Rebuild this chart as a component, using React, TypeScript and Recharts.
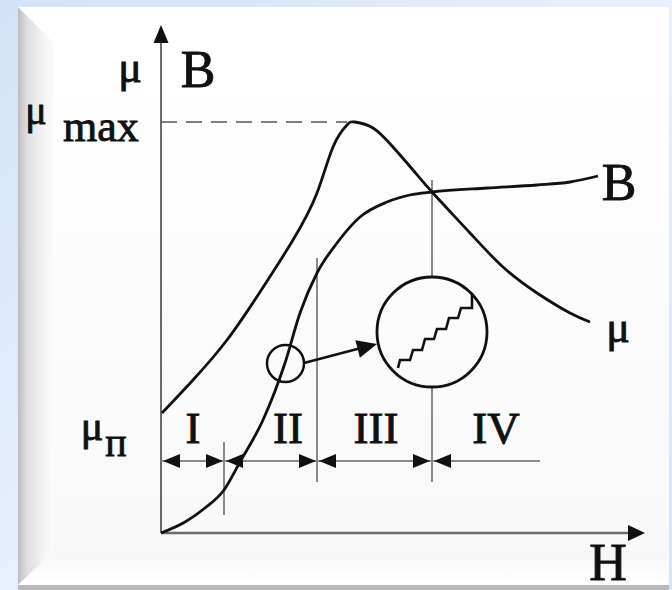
import React from 'react';
import {
  ComposedChart,
  Line,
  XAxis,
  YAxis,
  ReferenceLine,
  ReferenceDot,
  Scatter,
} from 'recharts';

// Field strength H and the two curves drawn against it (arbitrary units)
const H_MAX = 485;
const V_MAX = 508;

// Initial magnetisation curve B(H)
const bH = [0, 24, 44, 63, 79, 102, 124, 139, 156, 176, 199, 226, 249, 271, 326, 376, 409, 437];
const bV = [0, 11, 25, 43, 71, 113, 170, 220, 260, 290, 316, 331, 338, 341, 345, 348, 351, 357];

// Permeability curve μ(H)
const muH = [1, 32, 66, 99, 132, 156, 172, 186, 194, 212, 232, 252, 271, 309, 342, 376, 409, 429];
const muV = [120, 153, 193, 241, 293, 340, 386, 408, 411, 405, 386, 363, 341, 300, 266, 240, 220, 211];

// Barkhausen jumps shown in the magnified detail
const stepH = [237, 239, 249, 252, 261, 264, 273, 276, 285, 288, 297, 300, 311, 311];
const stepV = [165, 173, 173, 183, 183, 194, 194, 204, 204, 215, 215, 225, 225, 240];

// Region boundaries on the H axis and region names
const regionBounds = [0, 63, 156, 271, 379];
const regionNames = ['I', 'II', 'III', 'IV'];
const regionNameH = [32, 127, 215, 335];

const MU_MAX = 411;
const MU_MAX_H = 186;

const zip = (xs: number[], ys: number[]) => xs.map((h, i) => ({ h, v: ys[i] }));

const bData = zip(bH, bV);
const muData = zip(muH, muV);
const stepData = zip(stepH, stepV);

const INK = '#111';
const GUIDE = '#8a8a8a';
const AXIS = '#6a6a6a';
const FONT = '"Liberation Serif", "Times New Roman", serif';

// Arrow rows between the region boundaries
const ROW_V = 72;
const arrowHeads = [
  { h: 2, v: ROW_V, dir: 180 },
  { h: 62, v: ROW_V, dir: 0 },
  { h: 65, v: ROW_V, dir: 180 },
  { h: 155, v: ROW_V, dir: 0 },
  { h: 158, v: ROW_V, dir: 180 },
  { h: 269, v: ROW_V, dir: 0 },
  { h: 273, v: ROW_V, dir: 180 },
];

const axisHeads = [
  { h: 0, v: V_MAX, dir: -90, len: 18, half: 7.5 },
  { h: 484, v: 0, dir: 0, len: 17, half: 8 },
];

const zoomArrowHead = [{ h: 216, v: 189, dir: -14.6, len: 20, half: 9 }];

const ArrowHead = (props: any) => {
  const { cx, cy, payload } = props;
  if (cx == null || cy == null) return null;
  const len = payload.len ?? 17;
  const half = payload.half ?? 7;
  return (
    <polygon
      points={`0,0 ${-len},${-half} ${-len},${half}`}
      fill={INK}
      transform={`translate(${cx},${cy}) rotate(${payload.dir})`}
    />
  );
};

type TextSpec = { h: number; v: number; text: string; size: number; anchor?: string };

const textLabels: TextSpec[] = [
  { h: -31, v: 451, text: 'μ', size: 44 },
  { h: 37, v: 446, text: 'B', size: 52 },
  { h: -125, v: 409, text: 'μ', size: 40 },
  { h: -60, v: 392, text: 'max', size: 44 },
  { h: 458, v: 333, text: 'B', size: 52 },
  { h: 457, v: 191, text: 'μ', size: 44 },
  { h: -69, v: 93, text: 'μ', size: 42 },
  { h: -45, v: 77, text: 'п', size: 40 },
  { h: 447, v: -47, text: 'H', size: 52 },
  ...regionNames.map((name, i) => ({ h: regionNameH[i], v: 90, text: name, size: 45 })),
];

const makeTextShape = (spec: TextSpec) => (props: any) => (
  <text
    x={props.cx}
    y={props.cy}
    textAnchor={spec.anchor ?? 'middle'}
    style={{
      fontFamily: FONT,
      fontSize: spec.size,
      fill: INK,
      stroke: INK,
      strokeWidth: 0.9,
    }}
  >
    {spec.text}
  </text>
);

export default function App() {
  return (
    <div
      style={{
        position: 'absolute',
        left: 0,
        top: 0,
        width: 672,
        height: 590,
        background: 'linear-gradient(135deg, #d3e2f8 0%, #e8f0fc 50%, #d6e5fa 100%)',
        overflow: 'hidden',
      }}
    >
      {/* bevelled white panel */}
      <div
        style={{
          position: 'absolute',
          left: 18,
          top: 7,
          width: 651,
          height: 583,
          background: '#b9b9b9',
        }}
      />
      <div
        style={{
          position: 'absolute',
          left: 18,
          top: 7,
          width: 651,
          height: 578,
          background: 'linear-gradient(180deg, #ffffff 0%, #f8f8f8 100%)',
        }}
      />
      <div
        style={{
          position: 'absolute',
          left: 18,
          top: 7,
          width: 36,
          height: 578,
          background: 'linear-gradient(90deg, #bdbdbd 0%, #dedede 25%, #f4f4f4 70%, #fbfbfb 100%)',
          clipPath: 'polygon(0 0, 100% 36px, 100% calc(100% - 34px), 0 100%)',
        }}
      />
      <div
        style={{
          position: 'absolute',
          left: 18,
          top: 551,
          width: 651,
          height: 34,
          background: 'linear-gradient(0deg, #ffffff 0%, #f6f6f6 100%)',
          clipPath: 'polygon(0 100%, 36px 0, calc(100% - 2px) 0, 100% 100%)',
        }}
      />
      <div style={{ position: 'absolute', left: 0, top: 0 }}>
        <ComposedChart
          width={672}
          height={590}
          margin={{ top: 25, right: 26, bottom: 57, left: 161 }}
        >
          <XAxis type="number" dataKey="h" domain={[0, H_MAX]} hide />
          <YAxis type="number" dataKey="v" domain={[0, V_MAX]} hide />

          {/* axes */}
          <ReferenceLine
            segment={[{ x: 0, y: 0 }, { x: 0, y: V_MAX - 14 }]}
            stroke={AXIS}
            strokeWidth={2}
            ifOverflow="visible"
          />
          <ReferenceLine
            segment={[{ x: 0, y: 0 }, { x: 470, y: 0 }]}
            stroke={AXIS}
            strokeWidth={2.5}
            ifOverflow="visible"
          />

          {/* μmax guide */}
          <ReferenceLine
            segment={[{ x: 0, y: MU_MAX }, { x: MU_MAX_H, y: MU_MAX }]}
            stroke="#555"
            strokeWidth={1.5}
            strokeDasharray="16 9"
            ifOverflow="visible"
          />

          {/* region boundaries */}
          <ReferenceLine
            segment={[{ x: regionBounds[1], y: 18 }, { x: regionBounds[1], y: 91 }]}
            stroke={GUIDE}
            strokeWidth={2}
          />
          <ReferenceLine
            segment={[{ x: regionBounds[2], y: 51 }, { x: regionBounds[2], y: 275 }]}
            stroke={GUIDE}
            strokeWidth={2}
          />
          <ReferenceLine
            segment={[{ x: regionBounds[3], y: 51 }, { x: regionBounds[3], y: 146 }]}
            stroke={GUIDE}
            strokeWidth={2}
          />
          <ReferenceLine
            segment={[{ x: regionBounds[3], y: 256 }, { x: regionBounds[3], y: 353 }]}
            stroke={GUIDE}
            strokeWidth={2}
          />
          <ReferenceLine
            segment={[{ x: 0, y: ROW_V }, { x: regionBounds[4], y: ROW_V }]}
            stroke={GUIDE}
            strokeWidth={2}
          />

          {/* curves */}
          <Line
            data={muData}
            dataKey="v"
            type="natural"
            stroke={INK}
            strokeWidth={2.8}
            dot={false}
            activeDot={false}
            isAnimationActive={false}
          />
          <Line
            data={bData}
            dataKey="v"
            type="monotone"
            stroke={INK}
            strokeWidth={2.8}
            dot={false}
            activeDot={false}
            isAnimationActive={false}
          />

          {/* magnified detail: small ring on B, arrow, big ring with steps */}
          <ReferenceDot x={124.5} y={169.5} r={18.5} fill="none" stroke={INK} strokeWidth={2.5} />
          <ReferenceDot x={271} y={201} r={55} fill="none" stroke={INK} strokeWidth={2.8} />
          <ReferenceLine
            segment={[{ x: 143, y: 170 }, { x: 200, y: 185 }]}
            stroke={INK}
            strokeWidth={2.5}
          />
          <Line
            data={stepData}
            dataKey="v"
            type="linear"
            stroke={INK}
            strokeWidth={2.6}
            dot={false}
            activeDot={false}
            isAnimationActive={false}
          />

          {/* arrowheads */}
          <Scatter data={arrowHeads} dataKey="v" shape={ArrowHead} isAnimationActive={false} />
          <Scatter data={axisHeads} dataKey="v" shape={ArrowHead} isAnimationActive={false} />
          <Scatter data={zoomArrowHead} dataKey="v" shape={ArrowHead} isAnimationActive={false} />

          {/* text */}
          {textLabels.map((spec, i) => (
            <ReferenceDot
              key={`t${i}`}
              x={spec.h}
              y={spec.v}
              r={1}
              ifOverflow="visible"
              shape={makeTextShape(spec)}
            />
          ))}
        </ComposedChart>
      </div>
    </div>
  );
}
